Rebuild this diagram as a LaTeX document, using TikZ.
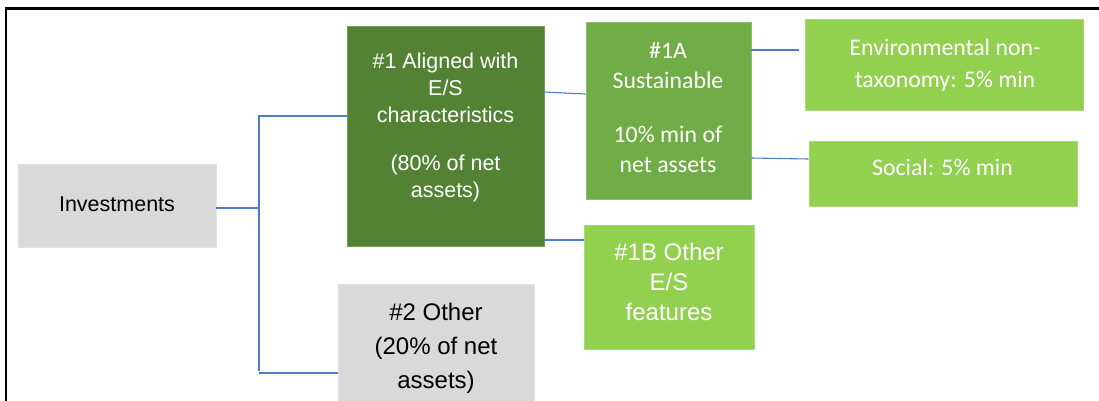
\documentclass[tikz,border=0pt]{standalone}
\usepackage{fontspec}
\setmainfont{Liberation Sans}
\newfontfamily\calfont{Carlito}
\definecolor{dkgreen}{HTML}{548235}
\definecolor{mdgreen}{HTML}{70AD47}
\definecolor{ltgreen}{HTML}{92D050}
\definecolor{boxgray}{HTML}{D9D9D9}
\definecolor{linkblue}{HTML}{4F7BCB}
\begin{document}
\begin{tikzpicture}[x=1pt,y=-1pt,
  box/.style={rectangle, inner sep=0pt, draw=#1!80!white, line width=0.7pt, fill=#1},
  txt/.style={inner sep=0pt, align=center, anchor=base},
  conn/.style={draw=linkblue, line width=1.1pt},
  frame/.style={draw=black, line width=2.3pt}]
\useasboundingbox (0,0) rectangle (1099,400);
\clip (0,0) rectangle (1099,400);
% frame
\draw[frame] (6,402) -- (6,8.5) -- (1102,8.5);
% boxes
\node[box=boxgray, minimum width=198pt, minimum height=83pt] (inv) at (117,205.5) {};
\node[box=dkgreen, minimum width=197pt, minimum height=220pt] (al) at (445.5,136) {};
\node[box=boxgray, minimum width=196pt, minimum height=136pt] (oth) at (436,352) {};
\node[box=mdgreen, minimum width=165pt, minimum height=177pt] (sa) at (668.5,110.5) {};
\node[box=ltgreen, minimum width=170pt, minimum height=124pt] (ob) at (669,287) {};
\node[box=ltgreen, minimum width=278pt, minimum height=91pt] (env) at (944,64.5) {};
\node[box=ltgreen, minimum width=268pt, minimum height=65pt] (soc) at (943,173.5) {};
% texts (anchored at the baseline of their last line)
\node[txt, font=\fontsize{21.5}{27}\selectfont] (invt) at (117,211.7) {Investments};
\node[txt, text=white, font=\fontsize{21.5}{27}\selectfont] (alt) at (445.5,197)
  {\#1 Aligned with\\E/S\\characteristics\\[21pt](80\% of net\\assets)};
\node[txt, font=\fontsize{24}{34}\selectfont] (otht) at (436,388)
  {\#2 Other\\(20\% of net\\assets)};
\node[txt, text=white, font=\fontsize{24}{30}\selectfont] (obt) at (669,320)
  {\#1B Other\\E/S\\features};
\node[txt, text=white, font=\calfont\fontsize{23.8}{30}\selectfont] (sat) at (668,172)
  {\#1A\\Sustainable\\[24pt]10\% min of\\net assets};
\node[txt, text=white, font=\calfont\fontsize{23.8}{32}\selectfont] (envt) at (945,87)
  {Environmental non-\\taxonomy: 5\% min};
\node[txt, text=white, font=\calfont\fontsize{23.8}{30}\selectfont] (soct) at (942.5,175)
  {Social: 5\% min};
% connectors
\coordinate (bus) at (259,208);
\draw[conn] (inv.east |- bus) -- (bus);
\draw[conn] (bus |- 0,115) -- (bus |- 0,371);
\draw[conn] (bus |- 0,116) -- (al.west |- 0,116);
\draw[conn] (bus |- 0,373) -- (oth.west |- 0,373);
\draw[conn] (al.east |- 0,92) -- (sa.west |- 0,94);
\draw[conn] (al.east |- 0,240) -- (ob.west |- 0,240);
\draw[conn] (sa.east |- 0,50) -- ([xshift=-6pt]env.west |- 0,50);
\draw[conn] (sa.east |- 0,158) -- (soc.west |- 0,159);
\end{tikzpicture}
\end{document}
